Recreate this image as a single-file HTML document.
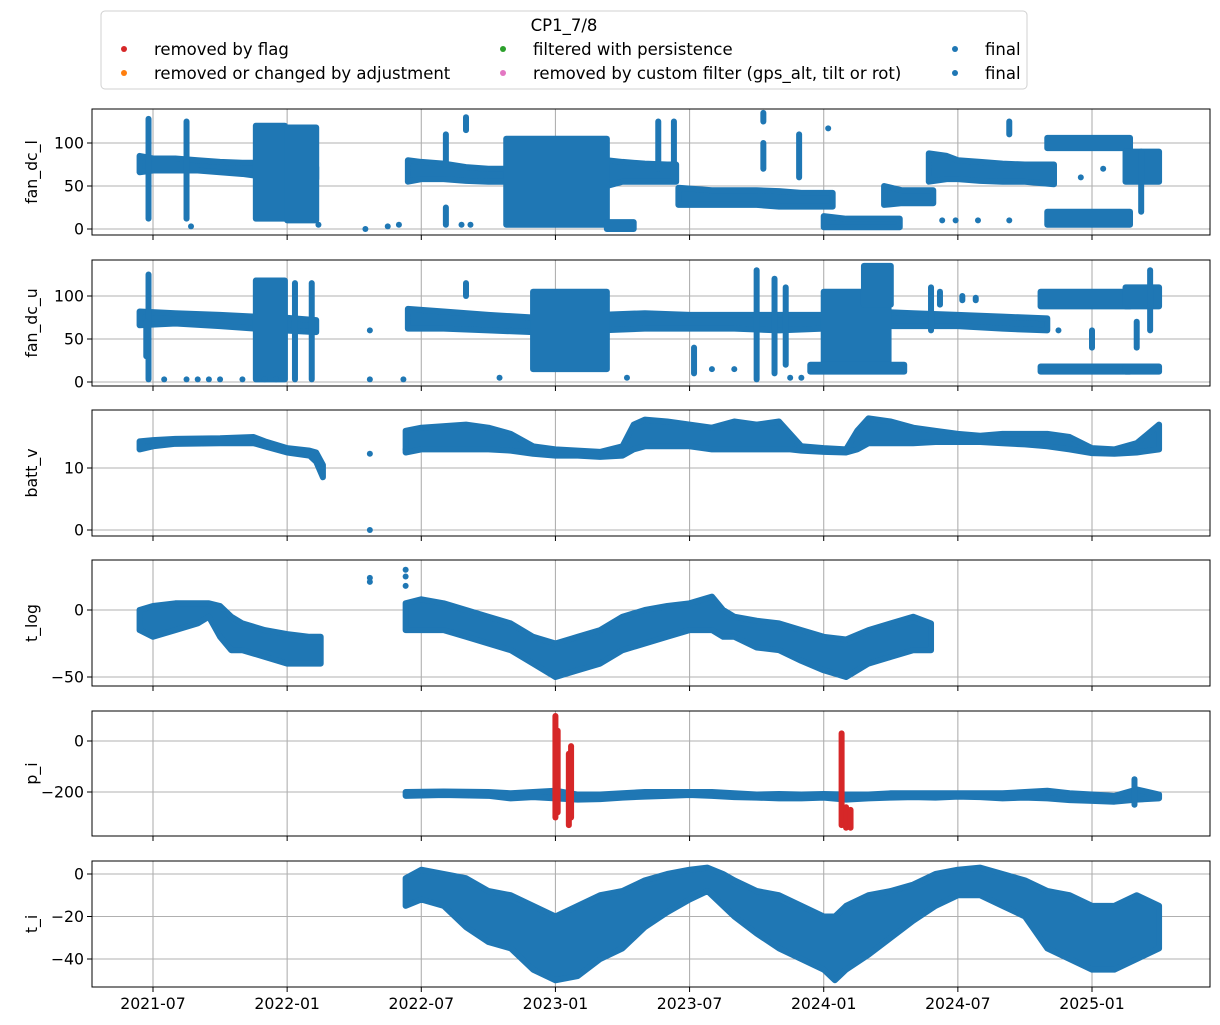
<!DOCTYPE html>
<html><head><meta charset="utf-8"><style>
body{margin:0;background:#fff;}
svg{display:block;font-family:"DejaVu Sans","Liberation Sans",sans-serif;}
</style></head><body>
<svg id="chart" width="1220" height="1025" viewBox="0 0 1220 1025" xmlns="http://www.w3.org/2000/svg">
<rect width="1220" height="1025" fill="#fff"/>
<g font-size="16.5">
<rect x="101" y="11" width="926" height="78" rx="4" fill="#fff" stroke="#d0d0d0"/>
<text x="564" y="31" text-anchor="middle">CP1_7/8</text>
<circle cx="124" cy="49" r="3" fill="#d62728"/><text x="154" y="55">removed by flag</text>
<circle cx="124" cy="73" r="3" fill="#ff7f0e"/><text x="154" y="79">removed or changed by adjustment</text>
<circle cx="503" cy="49" r="3" fill="#2ca02c"/><text x="533" y="55">filtered with persistence</text>
<circle cx="503" cy="73" r="3" fill="#e377c2"/><text x="533" y="79">removed by custom filter (gps_alt, tilt or rot)</text>
<circle cx="955" cy="49" r="3" fill="#1f77b4"/><text x="985" y="55">final</text>
<circle cx="955" cy="73" r="3" fill="#1f77b4"/><text x="985" y="79">final</text>
</g>
</svg>
<script>
// x values in months since 2021-07-01
const xTickMonths=[0,6,12,18,24,30,36,42];
const xTickLabels=["2021-07","2022-01","2022-07","2023-01","2023-07","2024-01","2024-07","2025-01"];

// ---- fan_dc_l
const p1M=[-0.6,0,1,2,3,4,4.6,5.5,6.5,7.3,null,11.4,12,13,14,15,15.8,null,20.3,21,22,23,23.4,null,23.5,25,26,27,28,29,30.4,null,30,31,32,33.4,null,32.7,33.5,34.9,null,34.7,35.5,36,37,38,39,40.3];
const p1Lo=[66,68,68,68,66,64,62,60,58,58,null,55,58,58,56,55,55,null,50,55,55,55,55,null,28,28,28,28,26,26,26,null,2,2,2,2,null,28,30,30,null,55,58,58,56,55,55,52];
const p1Hi=[85,82,82,80,78,77,77,74,72,72,null,80,78,76,72,70,70,null,80,78,76,75,75,null,48,45,45,45,44,42,42,null,15,12,12,12,null,50,45,45,null,88,85,80,78,76,75,75];
const p1SM=[-0.2,1.5,13.1,13.1,14,22.6,23.3,27.3,27.3,28.9,38.3,44.2];
const p1SLo=[12,12,75,5,115,70,60,125,70,60,110,20];
const p1SHi=[128,125,110,25,130,125,125,135,100,110,125,90];
const p1BS=[4.6,6.0,15.8,40,40,43.5,20.3];
const p1BE=[5.9,7.3,20.3,43.7,43.7,45,21.5];
const p1BLo=[12,10,5,94,5,55,0];
const p1BHi=[120,118,105,106,20,90,8];
const p1PM=[1.7,30.2,35.3,35.9,36.9,38.3,7.4,9.5,10.5,11,13.8,14.2,41.5,42.5];
const p1PV=[3,117,10,10,10,10,5,0,3,5,5,5,60,70];

// ---- fan_dc_u
const p2M=[-0.6,1,3,4.6,5.8,7.3,null,11.4,13,15,17,20,22,24,26,28,30,32,34,36,38,40];
const p2Lo=[66,68,65,62,60,58,null,62,62,60,58,60,62,62,62,60,62,65,65,65,62,60];
const p2Hi=[82,80,78,76,75,72,null,85,82,78,75,78,80,78,78,78,78,82,80,78,76,74];
const p2SM=[-0.2,-0.3,6.35,7.1,14,27,27.8,28.3,34.8,35.2,36.2,36.8,44.6,44,42,24.2];
const p2SLo=[3,30,3,3,100,3,10,20,60,90,95,95,60,40,40,10];
const p2SHi=[125,70,115,115,115,130,120,110,110,105,100,98,130,70,60,40];
const p2BS=[4.6,17,30,29.4,31.8,39.7,39.7,43.5,43.5];
const p2BE=[5.9,20.3,32.9,33.6,33,43.7,43.7,45,45];
const p2BLo=[3,15,15,12,90,12,88,12,88];
const p2BHi=[118,105,105,20,135,18,105,18,110];
const p2PM=[0.5,1.5,2,2.5,3,4,5,5.5,9.7,9.7,11.2,15.5,16,21.2,25,26,28.5,29,40.5];
const p2PV=[3,3,3,3,3,3,3,3,60,3,3,5,60,5,15,15,5,5,60];

// ---- batt_v
const p3M=[-0.6,0,1,3,4.5,5,6,7,7.3,7.6,null,11.3,12,14,15,16,17,18,19,20,21,21.5,22,23,24,25,26,27,28,28.5,29,30,31,31.5,32,33,34,35,36,37,38,39,40,41,42,43,44,45];
const p3Lo=[13,13.5,13.9,14,14,13.5,12.5,12,11,8.5,null,12.5,13,13,13,12.8,12.3,12,12,11.8,12,13,13.5,13.5,13.5,13,13,13,13,13,12.8,12.6,12.5,13,14,14,14,14.2,14.2,14.2,14,13.8,13.5,13,12.4,12.3,12.5,13];
const p3Hi=[14.3,14.5,14.7,14.8,15,14.3,13.2,12.8,12.5,10.5,null,16,16.5,17,16.5,15.5,13.5,13,12.8,12.6,13.5,17,17.8,17.5,17,16.5,17.5,17,17.5,15.5,13.5,13.2,13,16,18,17.5,16.5,16,15.5,15.2,15.5,15.5,15.5,15,13.2,13,14,17];
const p3PM=[9.7,9.7,11.3];
const p3PV=[12.3,0,13];

// ---- t_log
const p4M=[-0.6,0,1,2,2.5,3,3.5,4,5,6,7,7.5,null,11.3,12,13,14,15,16,17,18,19,20,21,22,23,24,25,25.5,26,27,28,29,30,31,32,33,34,34.8];
const p4Lo=[-15,-20,-15,-10,-5,-20,-30,-30,-35,-40,-40,-40,null,-15,-15,-15,-20,-25,-30,-40,-50,-45,-40,-30,-25,-20,-15,-15,-20,-20,-28,-30,-38,-45,-50,-40,-35,-30,-30];
const p4Hi=[0,3,5,5,5,3,-5,-10,-15,-18,-20,-20,null,5,8,5,0,-5,-10,-20,-25,-20,-15,-5,0,3,5,10,0,-5,-8,-10,-15,-20,-22,-15,-10,-5,-10];
const p4PM=[9.7,9.7,11.3,11.3,11.3];
const p4PV=[24,21,30,25,18];

// ---- p_i
const p5M=[11.3,13,15,16,17,18,19,20,21,22,23,24,25,26,27,28,29,30,31,32,33,34,35,36,37,38,39,40,41,42,43,44,45];
const p5Lo=[-215,-212,-215,-225,-220,-225,-230,-228,-222,-218,-215,-212,-215,-220,-222,-225,-225,-222,-230,-225,-222,-220,-222,-218,-220,-225,-222,-225,-232,-235,-238,-230,-225];
const p5Hi=[-200,-198,-200,-205,-200,-195,-210,-210,-205,-200,-200,-200,-200,-205,-210,-208,-210,-208,-210,-210,-205,-205,-205,-205,-205,-205,-200,-195,-205,-210,-215,-190,-210];
const p5SM=[43.9];
const p5SLo=[-250];
const p5SHi=[-150];
const p5RM=[18.0,18.1,18.6,18.7,30.8,31.0,31.2];
const p5RLo=[-300,-280,-330,-300,-330,-340,-340];
const p5RHi=[98,40,-50,-20,30,-260,-270];

// ---- t_i
const p6M=[11.3,12,13,14,15,16,17,18,19,20,21,22,23,24,24.8,25.5,26,27,28,29,30,30.5,31,32,33,34,35,36,37,38,39,40,41,42,43,44,45];
const p6Lo=[-15,-12,-15,-25,-32,-35,-45,-50,-48,-40,-35,-25,-18,-12,-8,-15,-20,-28,-35,-40,-45,-50,-45,-38,-30,-22,-15,-10,-10,-15,-20,-35,-40,-45,-45,-40,-35];
const p6Hi=[-2,2,0,-2,-8,-10,-15,-20,-15,-10,-8,-3,0,2,3,0,-3,-8,-10,-15,-20,-20,-15,-10,-8,-5,0,2,3,0,-3,-8,-10,-15,-15,-10,-15];

const AX_L=92, AX_R=1210, BLUE='#1f77b4', RED='#d62728', FS=15.7;
const xs=m=>153+m*(1092-153)/42;
const NS="http://www.w3.org/2000/svg";
const svg=document.getElementById('chart');
function mk(tag,attrs,parent){const e=document.createElementNS(NS,tag);for(const k in attrs)e.setAttribute(k,attrs[k]);(parent||svg).appendChild(e);return e;}

const panels=[
 {name:'fan_dc_l',top:109,bot:235,v0:0,y0:229,v1:100,y1:143,ticks:[0,50,100],M:p1M,Lo:p1Lo,Hi:p1Hi,SM:p1SM,SLo:p1SLo,SHi:p1SHi,BS:p1BS,BE:p1BE,BLo:p1BLo,BHi:p1BHi,PM:p1PM,PV:p1PV},
 {name:'fan_dc_u',top:260,bot:386,v0:0,y0:382,v1:100,y1:296,ticks:[0,50,100],M:p2M,Lo:p2Lo,Hi:p2Hi,SM:p2SM,SLo:p2SLo,SHi:p2SHi,BS:p2BS,BE:p2BE,BLo:p2BLo,BHi:p2BHi,PM:p2PM,PV:p2PV},
 {name:'batt_v',top:410,bot:536,v0:0,y0:530,v1:10,y1:468,ticks:[0,10],M:p3M,Lo:p3Lo,Hi:p3Hi,PM:p3PM,PV:p3PV},
 {name:'t_log',top:560,bot:686,v0:0,y0:610,v1:-50,y1:677,ticks:[-50,0],M:p4M,Lo:p4Lo,Hi:p4Hi,PM:p4PM,PV:p4PV},
 {name:'p_i',top:711,bot:836,v0:0,y0:741,v1:-200,y1:792,ticks:[-200,0],M:p5M,Lo:p5Lo,Hi:p5Hi,SM:p5SM,SLo:p5SLo,SHi:p5SHi,RM:p5RM,RLo:p5RLo,RHi:p5RHi},
 {name:'t_i',top:861,bot:987,v0:0,y0:874,v1:-40,y1:959,ticks:[-40,-20,0],M:p6M,Lo:p6Lo,Hi:p6Hi}
];

panels.forEach((p,i)=>{
 const g=mk('g',{});
 
 
 const ys=v=>p.y0+(v-p.v0)*(p.y1-p.y0)/(p.v1-p.v0);
 xTickMonths.forEach(m=>{const l=mk('line',{x1:xs(m),x2:xs(m),y1:p.top,y2:p.bot,stroke:'#b0b0b0','stroke-width':1.1},g);
  
  });
 p.ticks.forEach(t=>{const y=ys(t);
  const l=mk('line',{x1:AX_L,x2:AX_R,y1:y,y2:y,stroke:'#b0b0b0','stroke-width':1.1},g);
  
  
  mk('line',{x1:AX_L-5,x2:AX_L,y1:y,y2:y,stroke:'#000','stroke-width':1},g);
  const tx=mk('text',{x:AX_L-8,y:y+5.5,'font-size':FS,'text-anchor':'end'},g);tx.textContent=String(t).replace('-','\u2212');
  
  
 });
 let run=[];
 const flush=()=>{if(!run.length)return;
  let pts=run.map(k=>xs(p.M[k])+','+ys(p.Hi[k]));
  pts=pts.concat(run.slice().reverse().map(k=>xs(p.M[k])+','+ys(p.Lo[k])));
  const pg=mk('polygon',{points:pts.join(' '),fill:BLUE,stroke:BLUE,'stroke-width':6,'stroke-linejoin':'round'},g);
  
  
  run=[];};
 for(let k=0;k<p.M.length;k++){if(p.M[k]===null){flush();}else run.push(k);} flush();
 const rects=(S,E,Lo,Hi,col,nm)=>{for(let k=0;k<S.length;k++){
  const x1=xs(S[k])-3,x2=xs(E[k])+3,yA=ys(Hi[k])-3,yB=ys(Lo[k])+3;
  const r=mk('rect',{x:x1,y:yA,width:Math.max(6,x2-x1),height:Math.max(6,yB-yA),rx:3,fill:col},g);
  
  }};
 if(p.BS)rects(p.BS,p.BE,p.BLo,p.BHi,BLUE,'final-data-cluster');
 if(p.SM)rects(p.SM,p.SM,p.SLo,p.SHi,BLUE,'final-data-spike');
 if(p.PM)for(let k=0;k<p.PM.length;k++){const c=mk('circle',{cx:xs(p.PM[k]),cy:ys(p.PV[k]),r:3,fill:BLUE},g);
  
  }
 if(p.RM)rects(p.RM,p.RM,p.RLo,p.RHi,RED,'removed-by-flag-spike');
 const fr=mk('rect',{x:AX_L,y:p.top,width:AX_R-AX_L,height:p.bot-p.top,fill:'none',stroke:'#000','stroke-width':1},g);
 
 
 xTickMonths.forEach((m,j)=>{mk('line',{x1:xs(m),x2:xs(m),y1:p.bot,y2:p.bot+5,stroke:'#000'},g);
  if(i===panels.length-1){const t=mk('text',{x:xs(m),y:p.bot+22,'font-size':FS,'text-anchor':'middle'},g);t.textContent=xTickLabels[j];
   
   }});
 const cy=(p.top+p.bot)/2;
 const yl=mk('text',{x:0,y:0,'font-size':FS,'text-anchor':'middle',transform:`translate(37,${cy}) rotate(-90)`},g);
 yl.textContent=p.name;
 
 
});
</script>
</body></html>
